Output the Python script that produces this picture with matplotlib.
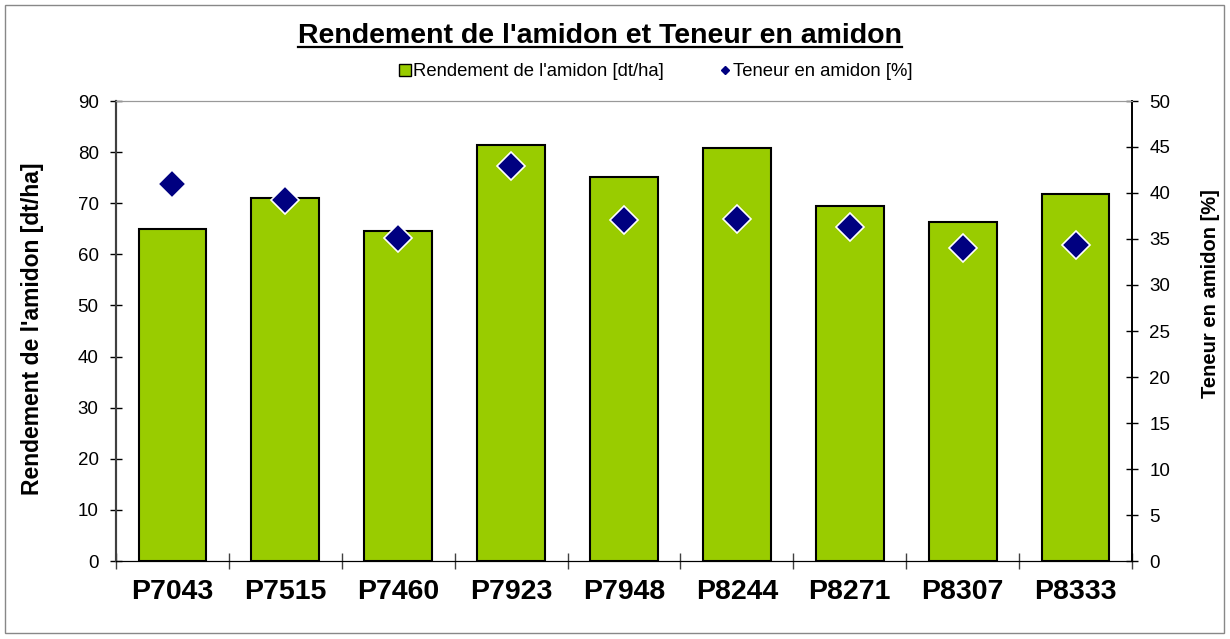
import matplotlib
matplotlib.use("Agg")
import matplotlib.pyplot as plt
from matplotlib.lines import Line2D
from matplotlib.patches import Rectangle
import numpy as np

plt.rcParams["font.family"] = ["Liberation Sans", "DejaVu Sans"]

varieties = ["P7043", "P7515", "P7460", "P7923", "P7948", "P8244", "P8271", "P8307", "P8333"]
rendement = [65.0, 71.0, 64.6, 81.3, 75.1, 80.9, 69.4, 66.3, 71.9]   # dt/ha
teneur = [41.0, 39.2, 35.1, 42.9, 37.1, 37.2, 36.3, 34.0, 34.4]     # %

BAR_GREEN = "#99cc00"
NAVY = "#000080"

W, H = 1230, 639
fig = plt.figure(figsize=(W / 100, H / 100), dpi=100)
ax = fig.add_axes([116 / W, 1 - 561 / H, (1132 - 116) / W, (561 - 101) / H])
ax2 = ax.twinx()

x = np.arange(len(varieties))
ax.bar(x, rendement, width=0.6, color=BAR_GREEN, edgecolor="black", linewidth=1.5, zorder=2)
ax2.plot(x, teneur, linestyle="none", marker="D", markersize=14, color=NAVY,
         markeredgecolor="white", markeredgewidth=1.2, zorder=3)

ax.set_xlim(-0.5, len(varieties) - 0.5)
ax.set_ylim(0, 90)
ax.set_yticks(range(0, 91, 10))
ax2.set_ylim(0, 50)
ax2.set_yticks(range(0, 51, 5))

# category labels sit between the boundary ticks
ax.set_xticks(np.arange(-0.5, len(varieties), 1.0))
ax.set_xticklabels([])
ax.set_xticks(x, minor=True)
ax.set_xticklabels(varieties, minor=True, fontsize=20.5, fontweight="bold")
ax.tick_params(axis="x", which="minor", length=0, pad=13)
ax.tick_params(axis="x", which="major", direction="inout", length=12, width=1, color="#404040")
ax.tick_params(axis="y", direction="inout", length=9, width=1, labelsize=13.5, pad=8)
ax2.tick_params(axis="y", direction="inout", length=9, width=1, labelsize=13.5, pad=8)

for a in (ax, ax2):
    a.spines["top"].set_color("#999999")
    a.spines["left"].set_color("#404040")
    a.spines["right"].set_color("black")
    a.spines["bottom"].set_color("black")
    a.spines["left"].set_linewidth(1.5)
    a.spines["right"].set_linewidth(1.2)

# label anchors are the inner edge of the rotated text
ax.set_ylabel("Rendement de l'amidon [dt/ha]", fontsize=16.5, fontweight="bold")
ax.yaxis.set_label_coords(44 / W, 1 - 329 / H, transform=fig.transFigure)
ax2.set_ylabel("Teneur en amidon [%]", fontsize=14.5, fontweight="bold")
ax2.yaxis.set_label_coords(1201 / W, 1 - 294 / H, transform=fig.transFigure)

fig.text(600 / W, 1 - 43 / H, "Rendement de l'amidon et Teneur en amidon", ha="center",
         va="baseline", fontsize=20.5, fontweight="bold")
# underline of the title
fig.add_artist(Line2D([298 / W, 902 / W], [1 - 47 / H, 1 - 47 / H], color="black", linewidth=1.6))

handles = [
    Line2D([], [], linestyle="none", marker="s", markersize=8, markerfacecolor=BAR_GREEN,
           markeredgecolor="black", markeredgewidth=1),
    Line2D([], [], linestyle="none", marker="D", markersize=4, color=NAVY),
]
fig.legend(handles, ["Rendement de l'amidon [dt/ha]", "Teneur en amidon [%]"],
           loc="center", bbox_to_anchor=(656 / W, 1 - 72 / H), ncol=2, frameon=False,
           fontsize=13.3, handlelength=0.6, handletextpad=0.15, columnspacing=3)

# outer chart border
fig.add_artist(Rectangle((5 / W, 6 / H), 1219 / W, 628 / H, transform=fig.transFigure,
                         fill=False, edgecolor="#888888", linewidth=1))

fig.savefig("out.png", dpi=100)
